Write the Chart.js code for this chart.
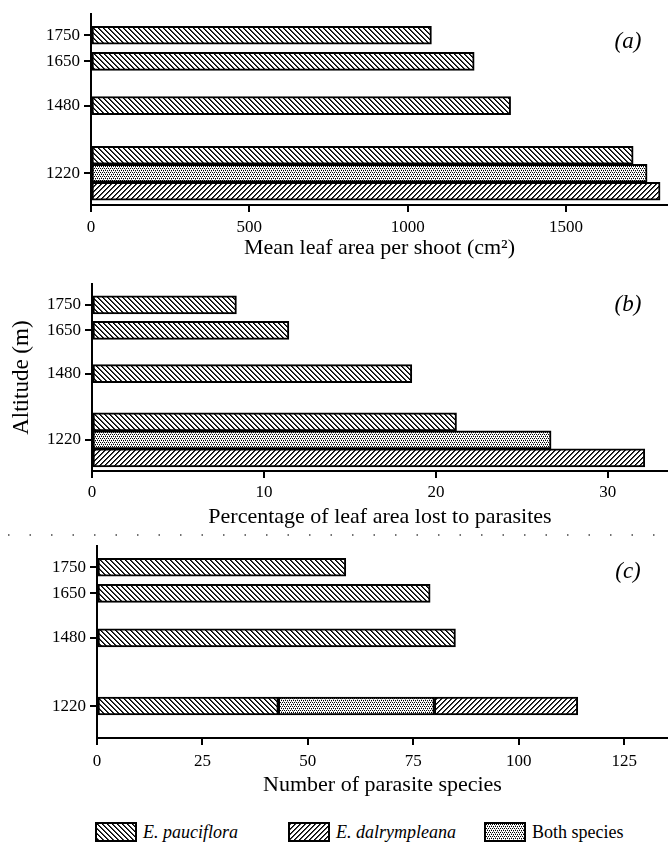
<!DOCTYPE html>
<html>
<head>
<meta charset="utf-8">
<script src="https://cdn.jsdelivr.net/npm/chart.js@4"></script>
<style>
  body { margin: 0; background: #fff; width: 668px; height: 843px; position: relative; overflow: hidden; }
  .panel { position: absolute; left: 0; width: 668px; }
  #legend { position: absolute; top: 822px; left: 0; width: 668px; height: 21px; font-family: "Liberation Serif", serif; font-size: 18px; color: #000; }
  .legend-item { position: absolute; top: 0; height: 20px; display: flex; align-items: center; }
  .swatch { width: 38px; height: 16px; border: 2px solid #000; margin-right: 6px; }
  .italic { font-style: italic; }
</style>
</head>
<body>
<div class="panel" style="top:0px;height:265px"><canvas id="chartA"></canvas></div>
<div class="panel" style="top:270px;height:264px"><canvas id="chartB"></canvas></div>
<div class="panel" style="top:530px;height:272px"><canvas id="chartC"></canvas></div>
<div id="legend">
  <div class="legend-item" style="left:95px"><div class="swatch" id="swPauciflora"></div><span class="italic">E. pauciflora</span></div>
  <div class="legend-item" style="left:288px"><div class="swatch" id="swDalrympleana"></div><span class="italic">E. dalrympleana</span></div>
  <div class="legend-item" style="left:484px"><div class="swatch" id="swBoth"></div><span>Both species</span></div>
</div>
<script>
// altitudes (m), top to bottom
const altitudes = [1750, 1650, 1480, 1220];
const altitudeTicks = [1220, 1480, 1650, 1750];
const altitudeMin = 1098;
const altitudeMax = 1831;

// (a) mean leaf area per shoot, cm2
const leafAreaPauciflora = [1075, 1210, 1325, 1712];
const leafAreaBoth = [null, null, null, 1756];
const leafAreaDalrympleana = [null, null, null, 1797];
const leafAreaTicks = [0, 500, 1000, 1500];

// (b) percentage of leaf area lost to parasites
const lossPauciflora = [8.4, 11.45, 18.6, 21.2];
const lossBoth = [null, null, null, 26.7];
const lossDalrympleana = [null, null, null, 32.15];
const lossTicks = [0, 10, 20, 30];

// (c) number of parasite species (stacked at 1220)
const speciesPauciflora = [59, 79, 85, 43];
const speciesBoth = [null, null, null, 37];
const speciesDalrympleana = [null, null, null, 34];
const speciesTicks = [0, 25, 50, 75, 100, 125];

const serif = '"Liberation Serif", "Times New Roman", serif';

function makeTile(kind) {
    const c = document.createElement('canvas');
    const n = kind === 'dots' ? 4 : 5;
    c.width = n;
    c.height = n;
    const g = c.getContext('2d');
    g.fillStyle = '#fff';
    g.fillRect(0, 0, n, n);
    if (kind === 'back' || kind === 'forward') {
        for (let i = 0; i < n; i++) {
            const col = kind === 'back' ? i : n - 1 - i;
            g.fillStyle = '#000';
            g.fillRect(col, i, 1, 1);
            g.fillStyle = '#444';
            g.fillRect((col + 1) % n, i, 1, 1);
        }
    } else {
        g.fillStyle = '#000';
        g.fillRect(0, 0, 1, 1);
        g.fillRect(2, 0, 1, 1);
        g.fillRect(1, 2, 1, 1);
        g.fillRect(3, 2, 1, 1);
        g.fillStyle = '#999';
        g.fillRect(1, 1, 1, 1);
        g.fillRect(3, 3, 1, 1);
    }
    return c;
}

const tiles = {
    pauciflora: makeTile('back'),
    dalrympleana: makeTile('forward'),
    both: makeTile('dots')
};

function pattern(tile) {
    return document.createElement('canvas').getContext('2d').createPattern(tile, 'repeat');
}

document.getElementById('swPauciflora').style.backgroundImage = 'url(' + tiles.pauciflora.toDataURL() + ')';
document.getElementById('swDalrympleana').style.backgroundImage = 'url(' + tiles.dalrympleana.toDataURL() + ')';
document.getElementById('swBoth').style.backgroundImage = 'url(' + tiles.both.toDataURL() + ')';

function toPoints(values) {
    return altitudes.map((alt, i) => ({ x: values[i], y: alt }));
}

function barDataset(label, values, tile) {
    return {
        label: label,
        data: toPoints(values),
        backgroundColor: pattern(tile),
        borderColor: '#000',
        borderWidth: 2,
        borderSkipped: false,
        barThickness: 18,
        skipNull: true
    };
}

const panelLabel = {
    id: 'panelLabel',
    afterDraw(chart, args, opts) {
        const ctx = chart.ctx;
        ctx.save();
        ctx.font = 'italic 23px ' + serif;
        ctx.fillStyle = '#000';
        ctx.textAlign = 'center';
        ctx.textBaseline = 'middle';
        ctx.fillText(opts.text, chart.chartArea.right - opts.dx, chart.chartArea.top + opts.dy);
        ctx.restore();
    }
};

const dottedRule = {
    id: 'dottedRule',
    beforeDraw(chart, args, opts) {
        if (!opts.show) return;
        const ctx = chart.ctx;
        ctx.save();
        ctx.strokeStyle = '#444';
        ctx.lineWidth = 1.5;
        ctx.setLineDash([1.5, 20]);
        ctx.beginPath();
        ctx.moveTo(8, 5);
        ctx.lineTo(668, 5);
        ctx.stroke();
        ctx.restore();
    }
};

function makeChart(id, cfg) {
    const stacked = !!cfg.stacked;
    return new Chart(document.getElementById(id), {
        type: 'bar',
        data: { datasets: cfg.datasets },
        options: {
            indexAxis: 'y',
            responsive: true,
            maintainAspectRatio: false,
            animation: false,
            layout: { padding: { top: cfg.top, left: 0, right: 0, bottom: 0 } },
            plugins: {
                legend: { display: false },
                tooltip: { enabled: false },
                panelLabel: { text: cfg.panel, dx: 40, dy: cfg.panelDy },
                dottedRule: { show: !!cfg.rule }
            },
            scales: {
                y: {
                    type: 'linear',
                    min: altitudeMin,
                    max: altitudeMax,
                    offset: false,
                    stacked: stacked,
                    afterBuildTicks: s => { s.ticks = altitudeTicks.map(v => ({ value: v })); },
                    afterFit: s => { s.width = cfg.axisLeft; },
                    ticks: { color: '#000', padding: 4, font: { family: serif, size: 17 }, callback: v => String(v) },
                    grid: { offset: false, drawOnChartArea: false, color: '#000', lineWidth: 2, tickLength: 7 },
                    border: { color: '#000', width: 2 },
                    title: {
                        display: !!cfg.yTitle,
                        text: cfg.yTitle || '',
                        color: '#000',
                        font: { family: serif, size: 23 },
                        padding: { top: 8, bottom: 0 }
                    }
                },
                x: {
                    type: 'linear',
                    min: 0,
                    max: cfg.xMax,
                    stacked: stacked,
                    afterBuildTicks: s => { s.ticks = cfg.xTicks.map(v => ({ value: v })); },
                    afterFit: s => { s.height = cfg.axisHeight; },
                    ticks: { color: '#000', padding: cfg.tickPad, font: { family: serif, size: 17 }, callback: v => String(v) },
                    grid: { drawOnChartArea: false, color: '#000', lineWidth: 2, tickLength: 7 },
                    border: { color: '#000', width: 2 },
                    title: {
                        display: true,
                        text: cfg.xTitle,
                        color: '#000',
                        font: { family: serif, size: 22 },
                        padding: { top: 0, bottom: 4 }
                    }
                }
            }
        },
        plugins: [panelLabel, dottedRule]
    });
}

makeChart('chartA', {
    datasets: [
        barDataset('E. pauciflora', leafAreaPauciflora, tiles.pauciflora),
        barDataset('Both species', leafAreaBoth, tiles.both),
        barDataset('E. dalrympleana', leafAreaDalrympleana, tiles.dalrympleana)
    ],
    top: 12, axisLeft: 91, axisHeight: 60, tickPad: 5,
    xMax: 1822, xTicks: leafAreaTicks,
    xTitle: 'Mean leaf area per shoot (cm²)',
    panel: '(a)', panelDy: 28
});

makeChart('chartB', {
    datasets: [
        barDataset('E. pauciflora', lossPauciflora, tiles.pauciflora),
        barDataset('Both species', lossBoth, tiles.both),
        barDataset('E. dalrympleana', lossDalrympleana, tiles.dalrympleana)
    ],
    top: 12, axisLeft: 92, axisHeight: 63, tickPad: 4,
    xMax: 33.5, xTicks: lossTicks,
    xTitle: 'Percentage of leaf area lost to parasites',
    yTitle: 'Altitude (m)',
    panel: '(b)', panelDy: 21
});

makeChart('chartC', {
    datasets: [
        barDataset('E. pauciflora', speciesPauciflora, tiles.pauciflora),
        barDataset('Both species', speciesBoth, tiles.both),
        barDataset('E. dalrympleana', speciesDalrympleana, tiles.dalrympleana)
    ],
    stacked: true,
    top: 16, axisLeft: 97, axisHeight: 64, tickPad: 6,
    xMax: 135.4, xTicks: speciesTicks,
    xTitle: 'Number of parasite species',
    panel: '(c)', panelDy: 26, rule: true
});
</script>
</body>
</html>
